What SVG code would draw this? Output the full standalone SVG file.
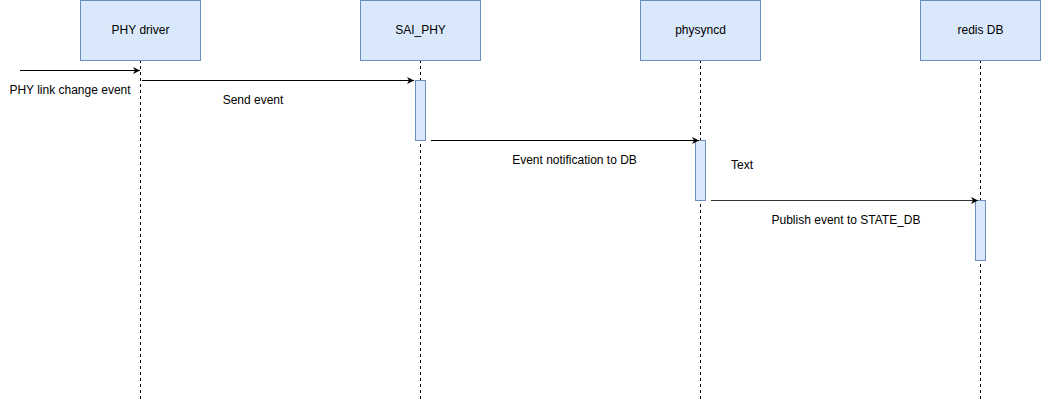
<svg xmlns="http://www.w3.org/2000/svg" width="1041" height="402" viewBox="0 0 1041 402">
<style>
.box{fill:#dae8fc;stroke:#6c8ebf;stroke-width:1}
.life{stroke:#000;stroke-width:1;stroke-dasharray:3 3;fill:none}
.msg{stroke:#000;stroke-width:1;fill:none;marker-end:url(#ah)}
text{font-family:"Liberation Sans",Arial,sans-serif;font-size:12px;fill:#000}
.c{text-anchor:middle}
</style>
<defs>
<marker id="ah" markerWidth="8" markerHeight="8" refX="7" refY="4" orient="auto" markerUnits="userSpaceOnUse">
<path d="M0,0.5 L7,4 L0,7.5 L2,4 Z" fill="#000"/>
</marker>
</defs>
<rect width="1041" height="402" fill="#fff"/>
<g id="phy-driver">
<line class="life" x1="140.5" y1="60" x2="140.5" y2="400"/>
<rect class="box" x="80.5" y="0.5" width="120" height="60"/>
<text class="c" x="140.5" y="34">PHY driver</text>
</g>
<g id="sai-phy">
<line class="life" x1="420.5" y1="60" x2="420.5" y2="400"/>
<rect class="box" x="360.5" y="0.5" width="120" height="60"/>
<text class="c" x="420.5" y="34">SAI_PHY</text>
<rect class="box" x="415.5" y="80.5" width="10" height="60"/>
</g>
<g id="physyncd">
<line class="life" x1="700.5" y1="60" x2="700.5" y2="400"/>
<rect class="box" x="640.5" y="0.5" width="120" height="60"/>
<text class="c" x="700.5" y="34">physyncd</text>
<rect class="box" x="695.5" y="140.5" width="10" height="60"/>
</g>
<g id="redis-db">
<line class="life" x1="980.5" y1="60" x2="980.5" y2="400"/>
<rect class="box" x="920.5" y="0.5" width="120" height="60"/>
<text class="c" x="980.5" y="34">redis DB</text>
<rect class="box" x="975.5" y="200.5" width="10" height="60"/>
</g>
<g id="connectors">
<line class="msg" x1="20" y1="70.5" x2="140" y2="70.5"/>
<text class="c" x="70" y="94">PHY link change event</text>
<line class="msg" x1="142" y1="80.5" x2="414" y2="80.5"/>
<text class="c" x="253" y="104">Send event</text>
<line class="msg" x1="431" y1="140.5" x2="699" y2="140.5"/>
<text class="c" x="574.5" y="164">Event notification to DB</text>
<line class="msg" x1="711" y1="200.5" x2="978" y2="200.5" style="stroke:#333"/>
<text class="c" x="846" y="224">Publish event to STATE_DB</text>
</g>
<text class="c" x="742" y="169">Text</text>
</svg>
